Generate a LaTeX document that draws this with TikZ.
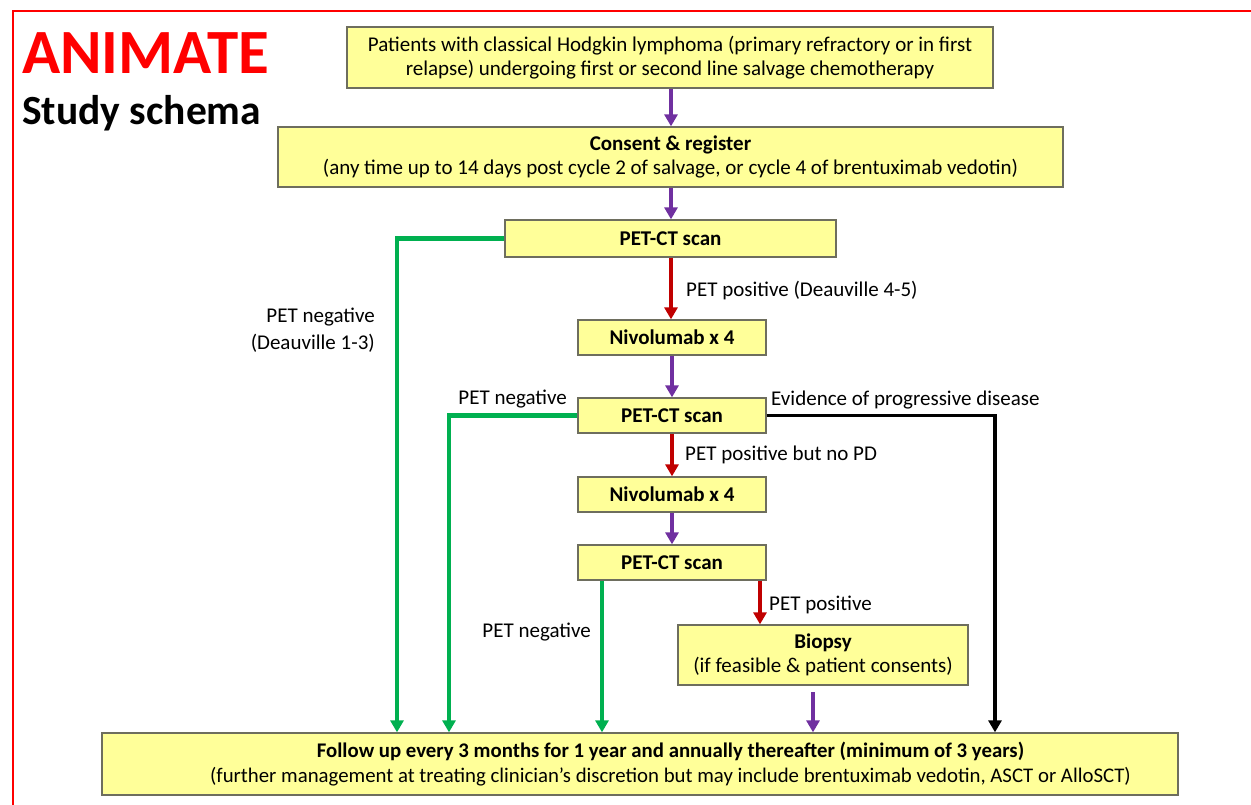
\documentclass[tikz,border=0pt]{standalone}
\usepackage{fontspec}
\setmainfont{Carlito}
\usetikzlibrary{arrows.meta}
\definecolor{boxfill}{HTML}{FFFF99}
\definecolor{boxline}{HTML}{6E6E5E}
\definecolor{cpurple}{HTML}{7030A0}
\definecolor{cred}{HTML}{C00000}
\definecolor{cgreen}{HTML}{00B050}
\definecolor{ctitle}{HTML}{FF0000}
\tikzset{
  box/.style={draw=boxline, fill=boxfill, line width=1.3pt, inner sep=0pt, align=center,
    font=\fontsize{21}{24}\selectfont},
  bbox/.style={box, font=\fontsize{21}{24}\selectfont\bfseries},
  lab/.style={inner sep=0pt, font=\fontsize{21}{27}\selectfont},
  conn/.style={line width=3.5pt, -{Triangle[width=13pt,length=12pt]}},
  purplearr/.style={conn, draw=cpurple},
  redarr/.style={conn, draw=cred},
  greenarr/.style={conn, draw=cgreen, line width=4.5pt},
  blackarr/.style={conn, draw=black},
}
\begin{document}
\begin{tikzpicture}[x=1pt,y=-1pt]
\useasboundingbox (0,0) rectangle (1251,805);
\draw[ctitle, line width=2.5pt] (13,805) -- (13,11) -- (1251,11);
\node[anchor=west, inner sep=0pt, text=ctitle, font=\fontsize{63}{70}\selectfont\bfseries] (title) at (22,53) {ANIMATE};
\node[anchor=west, inner sep=0pt, font=\fontsize{41.5}{46}\selectfont\bfseries] (subtitle) at (22,113) {Study schema};

\node[box, minimum width=646pt, minimum height=61pt] (p1) at (670,57.5)
  {Patients with classical Hodgkin lymphoma (primary refractory or in first\\relapse) undergoing first or second line salvage chemotherapy};
\node[box, minimum width=785pt, minimum height=60pt] (cons) at (670.5,157)
  {\textbf{Consent \& register}\\(any time up to 14 days post cycle 2 of salvage, or cycle 4 of brentuximab vedotin)};
\node[bbox, minimum width=331pt, minimum height=37pt] (pet1) at (670.5,238.5) {PET-CT scan};
\node[bbox, minimum width=188pt, minimum height=35pt] (niv1) at (672,337.5) {Nivolumab x 4};
\node[bbox, minimum width=188pt, minimum height=35pt] (pet2) at (672,415.5) {PET-CT scan};
\node[bbox, minimum width=188pt, minimum height=35pt] (niv2) at (672,494.5) {Nivolumab x 4};
\node[bbox, minimum width=188pt, minimum height=35pt] (pet3) at (672,562.5) {PET-CT scan};
\node[box, minimum width=290pt, minimum height=60pt] (bio) at (823,655)
  {\textbf{Biopsy}\\(if feasible \& patient consents)};
\node[box, minimum width=1076pt, minimum height=62pt] (fu) at (640,764) {};
\node[inner sep=0pt, align=center, font=\fontsize{20.8}{25}\selectfont] (futext) at (670.5,764)
  {\textbf{Follow up every 3 months for 1 year and annually thereafter (minimum of 3 years)}\\(further management at treating clinician’s discretion but may include brentuximab vedotin, ASCT or AlloSCT)};

\coordinate (gx1) at (397,0);
\coordinate (gx2) at (449,0);
\coordinate (gx3) at (602,0);
\coordinate (rx3) at (760,0);
\coordinate (px4) at (813,0);
\coordinate (bx) at (995,0);
\coordinate (biobot) at (813,692);

\draw[purplearr] (p1.south -| 671,0) -- (cons.north -| 671,0);
\draw[purplearr] (cons.south -| 671,0) -- (pet1.north -| 671,0);
\draw[redarr] (pet1.south -| 671,0) -- (niv1.north -| 671,0);
\draw[purplearr] (niv1) -- (pet2);
\draw[redarr] (pet2) -- (niv2);
\draw[purplearr] (niv2) -- (pet3);
\draw[redarr] (pet3.south -| rx3) -- (rx3 |- bio.north);
\draw[purplearr] (biobot) -- (px4 |- fu.north);
\draw[greenarr] (pet1.west) -| (gx1 |- fu.north);
\draw[greenarr] (pet2.west) -| (gx2 |- fu.north);
\draw[greenarr] (pet3.south -| gx3) -- (gx3 |- fu.north);
\draw[blackarr] (pet2.east) -| (bx |- fu.north);

\node[lab, anchor=west] (l1) at (686,291) {PET positive (Deauville 4-5)};
\node[lab, anchor=east, align=right] (l2) at (375,330) {PET negative\\(Deauville 1-3)};
\node[lab, anchor=east] (l3) at (567,399) {PET negative};
\node[lab, anchor=west] (l4) at (771,400) {Evidence of progressive disease};
\node[lab, anchor=west] (l5) at (685,455) {PET positive but no PD};
\node[lab, anchor=east] (l6) at (591,632) {PET negative};
\node[lab, anchor=west] (l7) at (769,605) {PET positive};
\end{tikzpicture}
\end{document}
